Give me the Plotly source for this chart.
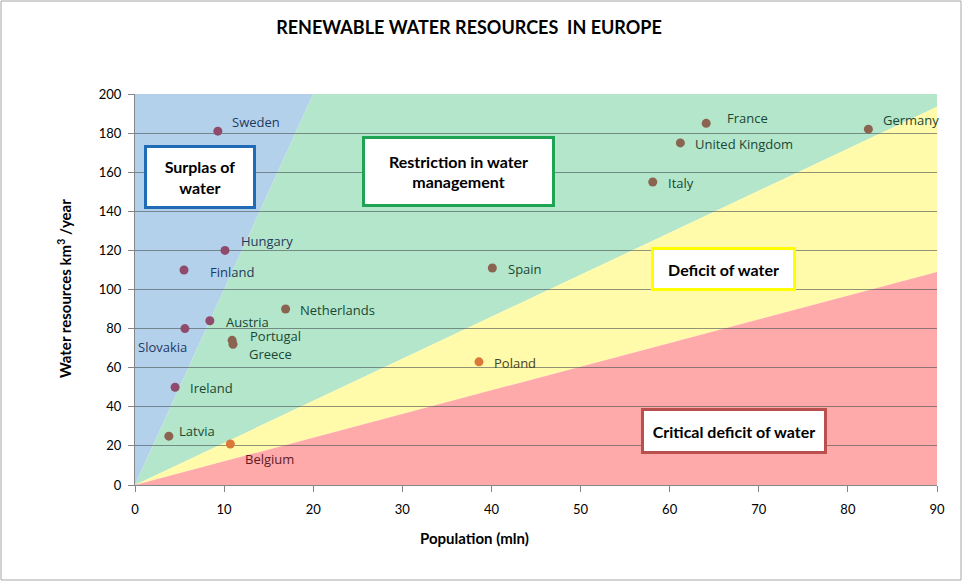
import plotly.graph_objects as go

# ---- data ----
countries = ["Sweden", "Finland", "Hungary", "Slovakia", "Austria", "Netherlands",
             "Portugal", "Greece", "Ireland", "Latvia", "Belgium", "Poland",
             "Spain", "Italy", "United Kingdom", "France", "Germany"]
population = [9.3, 5.5, 10.1, 5.6, 8.4, 16.9, 10.9, 11.0, 4.5, 3.8, 10.7, 38.6,
              40.1, 58.1, 61.2, 64.1, 82.3]
water = [181, 110, 120, 80, 84, 90, 74, 72, 50, 25, 21, 63, 111, 155, 175, 185, 182]
group = ["surplus", "surplus", "surplus", "surplus", "surplus", "restriction",
         "restriction", "restriction", "surplus", "restriction", "deficit", "deficit",
         "restriction", "restriction", "restriction", "restriction", "restriction"]

# zone boundary lines (x at top / y at right edge)
x_max = 90
y_max = 200
surplus_edge_x = 20        # blue/green boundary reaches y=200 at x=20
restriction_edge_y = 193.5  # green/yellow boundary at x=90
deficit_edge_y = 109       # yellow/red boundary at x=90

x_ticks = [0, 10, 20, 30, 40, 50, 60, 70, 80, 90]
y_ticks = [0, 20, 40, 60, 80, 100, 120, 140, 160, 180, 200]

zone_labels = ["Surplas of<br>water", "Restriction in water<br>management",
               "Deficit of water", "Critical deficit of water"]
zone_label_x = [7.3, 36.25, 66.0, 67.2]
zone_label_y = [157.5, 160.6, 110.5, 27.6]

# ---- styles ----
marker_colors = {"surplus": "#8E4B6B", "restriction": "#8A6450", "deficit": "#D9783A"}
label_offsets = {  # (xshift px, yshift px, anchor)
    "Sweden": (12, 9, "left"), "Finland": (24, -2, "left"), "Hungary": (14, 9, "left"),
    "Slovakia": (-22, -18, "center"), "Austria": (14, -1, "left"),
    "Netherlands": (12, -1, "left"), "Portugal": (16, 4, "left"), "Greece": (14, -10, "left"),
    "Ireland": (13, -1, "left"), "Latvia": (8, 5, "left"), "Belgium": (13, -15, "left"),
    "Poland": (13, -1, "left"), "Spain": (14, -1, "left"), "Italy": (13, -1, "left"),
    "United Kingdom": (13, -1, "left"), "France": (19, 5, "left"), "Germany": (13, 9, "left"),
}
label_colors = {
    "Sweden": "#1F3A5F", "Finland": "#1F3A5F", "Hungary": "#1F3A5F", "Slovakia": "#1F3864",
    "Belgium": "#5E1A24", "Poland": "#4A4420",
}
default_label_color = "#1B4634"
zone_fill = ["#B4D1EC", "#B3E6CA", "#FFFBAA", "#FFAAAA"]
zone_border = ["#1F6BB5", "#1FA453", "#FFFF00", "#B9504D"]
zone_box_w = [104, 185, 137, 178]
zone_box_h = [56, 63, 36, 38]

FONT = "Lato, 'Open Sans', sans-serif"

fig = go.Figure()

def path(xs, ys):
    return "M " + " L ".join(f"{a},{b}" for a, b in zip(xs, ys)) + " Z"

zones = [
    ([0, 0, surplus_edge_x], [0, y_max, y_max]),
    ([0, surplus_edge_x, x_max, x_max], [0, y_max, y_max, restriction_edge_y]),
    ([0, x_max, x_max], [0, restriction_edge_y, deficit_edge_y]),
    ([0, x_max, x_max], [0, deficit_edge_y, 0]),
]
for (xs, ys), col in zip(zones, zone_fill):
    fig.add_shape(type="path", path=path(xs, ys), xref="x", yref="y",
                  fillcolor=col, line=dict(width=0), layer="below")

for g in ["surplus", "restriction", "deficit"]:
    idx = [i for i, gg in enumerate(group) if gg == g]
    fig.add_trace(go.Scatter(
        x=[population[i] for i in idx], y=[water[i] for i in idx],
        mode="markers", marker=dict(size=9, color=marker_colors[g]),
        hoverinfo="text", text=[countries[i] for i in idx], showlegend=False))

for c, px_, wy in zip(countries, population, water):
    dx, dy, anc = label_offsets[c]
    fig.add_annotation(x=px_, y=wy, xref="x", yref="y", text=c, showarrow=False,
                       xanchor=anc, yanchor="middle", xshift=dx, yshift=dy,
                       font=dict(family="'Open Sans', sans-serif", size=13,
                                 color=label_colors.get(c, default_label_color)))

for t, zx, zy, bc, w, h in zip(zone_labels, zone_label_x, zone_label_y, zone_border,
                                zone_box_w, zone_box_h):
    fig.add_annotation(x=zx, y=zy, xref="x", yref="y", text=f"<b>{t}</b>",
                       showarrow=False, bgcolor="white", bordercolor=bc, borderwidth=3,
                       width=w, height=h, align="center", valign="middle",
                       font=dict(family=FONT, size=16, color="black"))

# axis titles
fig.add_annotation(x=(474 - 135) / 802, y=(485 - 538) / 391, xref="paper", yref="paper",
                   text="<b>Population (mln)</b>", showarrow=False,
                   xanchor="center", yanchor="middle",
                   font=dict(family=FONT, size=15, color="black"))
fig.add_annotation(x=(64 - 135) / 802, y=(485 - 289) / 391, xref="paper", yref="paper",
                   text="<b>Water resources km<sup>3</sup> /year</b>", showarrow=False,
                   textangle=-90, xanchor="center", yanchor="middle",
                   font=dict(family=FONT, size=15, color="black"))

# outer chart border
fig.add_shape(type="rect", xref="paper", yref="paper",
              x0=(1 - 135) / 802, x1=(961 - 135) / 802,
              y0=(485 - 580) / 391, y1=(485 - 1) / 391,
              line=dict(color="#A6A6A6", width=1), layer="below")

fig.update_layout(
    width=963, height=582,
    margin=dict(l=135, r=26, t=94, b=97),
    paper_bgcolor="white", plot_bgcolor="white",
    title=dict(text="<b>RENEWABLE WATER RESOURCES  IN EUROPE</b>", x=0.487, xanchor="center",
               y=0.953, yanchor="middle", font=dict(family=FONT, size=18, color="black")),
    font=dict(family=FONT, size=12, color="black"),
    xaxis=dict(range=[0, x_max], tickvals=x_ticks, showgrid=False, zeroline=False,
               showline=True, linecolor="#868686", ticks="outside", ticklen=6,
               tickcolor="#868686", tickfont=dict(family=FONT, size=13),
               ticklabelstandoff=6),
    yaxis=dict(range=[0, y_max], tickvals=y_ticks, showgrid=True,
               gridcolor="rgba(70,80,80,0.6)", gridwidth=1, zeroline=False,
               showline=True, linecolor="#868686", ticks="outside", ticklen=6,
               tickcolor="#868686", tickfont=dict(family=FONT, size=13),
               ticklabelstandoff=4),
)

fig.write_html("out.html")
